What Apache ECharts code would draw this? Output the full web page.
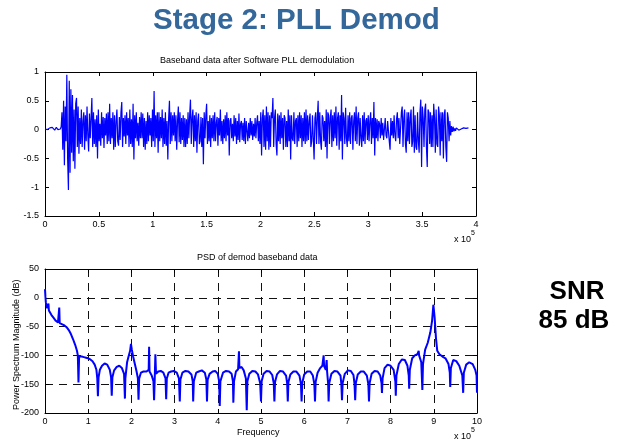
<!DOCTYPE html>
<html><head><meta charset="utf-8">
<script src="https://cdn.jsdelivr.net/npm/echarts@6/dist/echarts.min.js"></script>
<style>html,body{margin:0;padding:0;background:#fff}#c{width:618px;height:442px}</style>
</head><body><div id="c"></div>
<script>
// ---- data (x in units of 10^5) ----
const basebandStep = 0.0075;
const basebandValues = [
0.01,-0.01,0.02,0.0,0.02,-0.01,0.03,0.01,0.02,0.04,0.01,0.03,-0.01,0.02,0.04,0.02,0.0,0.03,-0.02,0.01,
0.05,0.3,-0.35,0.5,-0.62,0.4,-0.2,0.95,-0.5,-1.05,0.85,-0.75,0.7,-0.4,0.6,-0.55,0.35,-0.68,0.45,0.55,
-0.3,0.4,-0.42,0.2,-0.25,0.35,-0.3,0.15,0.3,-0.35,0.25,-0.2,0.4,-0.1,-0.38,0.28,-0.15,0.2,0.55,-0.3,
0.3,-0.25,0.18,-0.3,0.25,-0.5,0.35,-0.2,0.1,-0.28,0.3,-0.15,0.22,-0.32,0.2,-0.1,0.28,-0.25,0.3,-0.2,
0.45,-0.25,0.2,-0.15,0.3,-0.35,0.25,-0.3,0.15,0.35,-0.2,-0.28,0.22,-0.18,0.3,0.48,-0.3,0.2,-0.12,0.25,
-0.25,0.3,-0.1,0.2,-0.3,0.35,-0.25,0.18,-0.3,0.45,-0.52,0.25,-0.15,0.3,-0.2,0.12,-0.28,0.22,-0.15,0.3,
-0.15,0.28,-0.3,0.2,-0.35,0.15,-0.25,0.3,-0.2,0.25,-0.1,0.2,-0.3,0.35,-0.2,0.67,-0.3,0.25,-0.15,0.3,
-0.4,0.3,-0.2,0.22,-0.15,0.35,-0.3,0.2,-0.25,0.3,-0.28,0.15,-0.52,0.2,0.5,-0.25,0.3,-0.2,0.25,-0.1,
0.3,-0.2,0.25,-0.35,0.15,0.4,-0.22,0.3,-0.25,0.2,-0.18,0.25,-0.3,0.2,-0.3,0.18,-0.25,0.3,-0.15,0.25,
0.52,-0.25,0.2,0.35,-0.3,0.25,-0.2,0.3,-0.4,0.15,0.28,-0.25,-0.2,0.22,-0.3,0.2,-0.6,0.3,-0.15,0.25,
0.45,-0.25,0.15,-0.2,0.25,-0.3,0.2,-0.15,0.25,-0.2,0.3,-0.2,0.12,0.22,-0.28,0.2,-0.1,0.35,-0.2,0.15,
-0.25,0.18,-0.15,0.25,-0.2,0.3,-0.1,0.2,-0.45,0.15,0.2,-0.15,0.1,-0.2,0.25,-0.12,0.2,-0.25,0.15,-0.18,
0.28,-0.22,0.1,0.15,-0.18,0.12,-0.2,0.2,-0.25,0.15,0.18,-0.2,0.12,-0.15,0.2,-0.1,0.15,-0.18,0.1,-0.12,
0.2,-0.15,0.12,0.25,-0.2,0.15,-0.25,0.3,-0.45,0.2,0.35,-0.3,0.25,-0.35,0.4,-0.2,0.3,-0.35,0.25,-0.3,
0.3,0.2,0.55,-0.3,0.2,0.35,-0.25,-0.45,0.28,-0.2,0.25,-0.25,0.3,-0.15,0.2,-0.35,0.25,0.2,-0.3,0.15,
-0.3,0.35,-0.2,0.25,-0.52,0.25,-0.15,-0.2,0.3,-0.25,0.15,0.2,-0.3,0.25,-0.2,0.3,-0.15,0.25,-0.3,0.2,
-0.2,0.3,-0.25,0.35,-0.2,0.25,-0.18,0.15,0.28,-0.3,-0.2,0.25,-0.15,-0.52,0.2,0.3,-0.25,0.2,0.5,-0.25,
0.3,-0.2,-0.35,0.25,0.2,-0.2,0.15,-0.3,0.35,-0.5,0.3,0.25,-0.25,0.2,0.35,-0.3,0.25,-0.2,0.3,-0.15,
0.4,-0.28,0.2,0.3,-0.35,0.25,-0.2,0.6,-0.52,0.3,0.2,-0.25,0.38,-0.15,-0.3,0.25,-0.2,0.3,-0.25,0.2,
0.25,-0.35,0.15,0.3,-0.2,0.4,-0.25,0.2,0.3,-0.28,0.2,-0.15,-0.3,0.25,-0.2,0.3,-0.25,0.15,0.2,-0.18,
0.25,-0.2,0.15,0.3,-0.25,0.2,-0.15,0.48,-0.45,0.2,-0.15,0.18,-0.2,0.15,0.1,-0.15,0.2,-0.1,0.12,-0.18,
-0.18,0.2,-0.1,-0.15,0.15,0.12,-0.2,-0.35,0.2,-0.1,0.15,-0.15,0.25,-0.1,-0.2,0.18,0.3,-0.15,0.2,-0.25,
-0.25,0.3,0.4,-0.3,0.2,0.35,-0.25,-0.4,0.3,-0.2,0.3,-0.25,0.2,0.35,-0.3,-0.2,0.4,-0.4,0.25,-0.3,
-0.35,0.3,-0.2,-0.4,0.3,0.52,-0.65,0.4,0.2,-0.3,0.35,0.45,-0.3,-0.65,0.35,0.3,-0.25,0.3,-0.3,0.25,
-0.3,0.45,0.2,-0.4,0.35,-0.25,-0.3,0.4,0.25,-0.45,0.3,-0.2,0.3,-0.5,0.25,0.35,-0.3,-0.56,0.3,0.2,
-0.2,0.15,-0.1,0.06,-0.04,0.05,-0.03,0.02,-0.02,0.03,0.0,0.02,-0.01,0.02,0.0,0.01,0.02,0.01,0.03,0.02,0.01,0.02,0.03,0.02,0.03
];
const psdFreq = [
0,0.01,0.02,0.03,0.05,0.07,0.08,0.09,0.12,0.15,0.2,0.25,0.3,0.33,0.34,0.4,0.45,0.5,0.55,0.6,0.65,0.7,0.74,0.76,0.775,0.79,
0.85,0.9,0.95,1.0,1.05,1.1,1.15,1.19,1.21,1.225,1.24,1.27,
1.32,1.38,1.44,1.5,1.53,1.545,1.56,1.6,1.66,1.72,1.78,1.83,1.85,1.86,1.9,1.94,1.97,1.99,2.01,2.04,2.08,2.12,2.15,2.165,2.18,
2.22,2.28,2.35,2.4,2.41,2.42,2.47,2.51,2.525,2.54,2.555,2.57,2.62,2.68,2.74,2.79,2.805,2.82,
2.86,2.92,2.98,3.05,3.1,3.12,3.135,3.18,3.25,3.32,3.39,3.42,3.43,3.445,3.5,3.56,3.63,3.7,3.735,3.75,3.765,
3.81,3.88,3.94,4.0,4.03,4.045,4.06,4.12,4.19,4.26,4.32,4.35,4.36,4.375,4.42,4.47,4.49,4.5,4.55,4.6,4.65,4.67,4.685,
4.73,4.8,4.87,4.93,4.98,5.0,5.015,5.06,5.13,5.2,5.26,5.295,5.31,5.325,5.37,5.44,5.51,5.58,5.605,5.62,5.635,
5.68,5.75,5.82,5.89,5.925,5.94,5.955,6.0,6.07,6.14,6.2,6.235,6.25,6.265,6.31,6.37,6.42,6.45,6.46,6.5,6.52,6.53,6.555,6.565,6.58,
6.63,6.7,6.77,6.84,6.86,6.875,6.89,6.94,7.01,7.08,7.14,7.165,7.18,7.195,7.24,7.31,7.38,7.45,7.485,7.5,7.515,
7.56,7.63,7.7,7.76,7.79,7.8,7.815,7.86,7.93,8.0,8.07,8.11,8.12,8.135,8.19,8.26,8.33,8.39,8.42,8.43,8.445,
8.5,8.56,8.62,8.65,8.66,8.71,8.735,8.75,8.8,8.86,8.92,8.96,8.99,9.0,9.02,9.05,9.08,9.13,9.2,9.27,9.34,9.37,9.38,9.395,
9.45,9.52,9.59,9.66,9.68,9.695,9.75,9.82,9.9,9.96,9.99,10.0
];
const psdDb = [
15,2,-8,-12,-18,-20,-10,-22,-25,-30,-35,-40,-43,-17,-44,-46,-48,-51,-56,-63,-72,-82,-92,-100,-147,-102,
-102,-103,-104,-105,-107,-110,-116,-125,-140,-171,-138,-125,
-118,-114,-116,-125,-138,-170,-138,-126,-120,-118,-122,-132,-175,-140,-112,-100,-92,-80,-90,-102,-115,-128,-140,-177,-140,
-130,-128,-128,-125,-85,-128,-135,-145,-178,-140,-98,-132,-128,-127,-130,-140,-176,-140,
-130,-128,-127,-130,-140,-180,-142,-130,-127,-128,-133,-145,-180,-145,-130,-128,-126,-130,-142,-180,-142,
-132,-128,-127,-132,-145,-188,-145,-130,-127,-128,-132,-145,-182,-145,-128,-124,-93,-122,-120,-126,-140,-195,-145,
-132,-127,-128,-133,-148,-180,-145,-132,-127,-128,-134,-148,-180,-146,-133,-127,-128,-135,-148,-180,-146,
-133,-128,-128,-135,-150,-180,-148,-133,-128,-128,-135,-150,-180,-146,-130,-122,-118,-100,-118,-125,-108,-128,-150,-180,-148,
-132,-127,-128,-135,-150,-178,-148,-132,-126,-127,-134,-150,-178,-148,-133,-128,-128,-135,-150,-180,-148,
-132,-127,-128,-135,-148,-165,-140,-122,-116,-118,-125,-145,-170,-135,-115,-107,-108,-118,-135,-158,-125,
-105,-100,-98,-92,-100,-112,-160,-115,-90,-78,-60,-40,-12,-15,-35,-70,-92,-98,-102,-105,-115,-130,-155,-122,
-108,-110,-118,-135,-165,-130,-116,-112,-115,-125,-135,-165
];
const topXLabels = ['0','0.5','1','1.5','2','2.5','3','3.5','4'];
const topYLabels = ['-1.5','-1','-0.5','0','0.5','1'];
const botXLabels = ['0','1','2','3','4','5','6','7','8','9','10'];
const botYLabels = ['-200','-150','-100','-50','0','50'];

const basebandData = basebandValues.map((v, i) => [+(i * basebandStep).toFixed(4), v]);
const psdData = psdFreq.map((f, i) => [f, psdDb[i]]);

const FONT = "'Liberation Sans', Arial, sans-serif";
const black = '#000';
function axisBase(extra) {
  return Object.assign({
    type: 'value',
    axisLine: { show: true, onZero: false, lineStyle: { color: black, width: 1 } },
    axisTick: { show: true, inside: true, length: 4, lineStyle: { color: black } },
    axisLabel: { show: false, fontFamily: FONT, fontSize: 9, color: black },
    splitLine: { show: false }
  }, extra);
}
const dashed = { show: true, lineStyle: { color: '#111', type: [8, 6], width: 1 } };

const chart = echarts.init(document.getElementById('c'), null, { renderer: 'canvas' });
chart.setOption({
  animation: false,
  backgroundColor: '#fff',
  grid: [
    { left: 45, top: 72, width: 431, height: 144 },
    { left: 45, top: 269, width: 432, height: 144 }
  ],
  xAxis: [
    axisBase({ gridIndex: 0, position: 'bottom', min: 0, max: 4, interval: 0.5,
      axisLabel: { show: true, fontFamily: FONT, fontSize: 9, color: black, margin: 4,
        formatter: (v, i) => topXLabels[i] } }),
    axisBase({ gridIndex: 0, position: 'top', min: 0, max: 4, interval: 0.5 }),
    axisBase({ gridIndex: 1, position: 'bottom', min: 0, max: 10, interval: 1,
      splitLine: dashed,
      axisLabel: { show: true, fontFamily: FONT, fontSize: 9, color: black, margin: 4,
        formatter: (v, i) => botXLabels[i] } }),
    axisBase({ gridIndex: 1, position: 'top', min: 0, max: 10, interval: 1 })
  ],
  yAxis: [
    axisBase({ gridIndex: 0, position: 'left', min: -1.5, max: 1, interval: 0.5,
      axisLabel: { show: true, fontFamily: FONT, fontSize: 9, color: black, margin: 6,
        formatter: (v, i) => topYLabels[i] } }),
    axisBase({ gridIndex: 0, position: 'right', min: -1.5, max: 1, interval: 0.5 }),
    axisBase({ gridIndex: 1, position: 'left', min: -200, max: 50, interval: 50,
      splitLine: dashed,
      axisLabel: { show: true, fontFamily: FONT, fontSize: 9, color: black, margin: 6,
        formatter: (v, i) => botYLabels[i] } }),
    axisBase({ gridIndex: 1, position: 'right', min: -200, max: 50, interval: 50 })
  ],
  series: [
    { type: 'line', xAxisIndex: 0, yAxisIndex: 0, data: basebandData, showSymbol: false,
      lineStyle: { color: '#0000ff', width: 1.2 }, silent: true },
    { type: 'line', xAxisIndex: 2, yAxisIndex: 2, data: psdData, showSymbol: false,
      lineStyle: { color: '#0000ff', width: 2 }, silent: true }
  ],
  graphic: [
    { type: 'text', left: 153, top: 6, style: { text: 'Stage 2: PLL Demod', fontFamily: FONT, fontWeight: 'bold', fontSize: 29.5, fill: '#34679a' } },
    { type: 'text', left: 160, top: 56, style: { text: 'Baseband data after Software PLL demodulation', fontFamily: FONT, fontSize: 9, fill: black } },
    { type: 'text', top: 253, left: 197, style: { text: 'PSD of demod baseband data', fontFamily: FONT, fontSize: 9, fill: black } },
    { type: 'text', top: 428, left: 237, style: { text: 'Frequency', fontFamily: FONT, fontSize: 9, fill: black } },
    { type: 'text', x: 12, y: 410, rotation: Math.PI / 2, style: { text: 'Power Spectrum Magnitude (dB)', fontFamily: FONT, fontSize: 9, fill: black } },
    { type: 'text', left: 454, top: 235, style: { text: 'x 10', fontFamily: FONT, fontSize: 9, fill: black } },
    { type: 'text', left: 471, top: 230, style: { text: '5', fontFamily: FONT, fontSize: 7, fill: black } },
    { type: 'text', left: 454, top: 432, style: { text: 'x 10', fontFamily: FONT, fontSize: 9, fill: black } },
    { type: 'text', left: 471, top: 427, style: { text: '5', fontFamily: FONT, fontSize: 7, fill: black } },
    { type: 'text', x: 577, y: 292, style: { text: 'SNR', fontFamily: FONT, fontWeight: 'bold', fontSize: 26, fill: black, align: 'center', verticalAlign: 'middle' } },
    { type: 'text', x: 574, y: 321, style: { text: '85 dB', fontFamily: FONT, fontWeight: 'bold', fontSize: 26, fill: black, align: 'center', verticalAlign: 'middle' } }
  ]
});
</script></body></html>
